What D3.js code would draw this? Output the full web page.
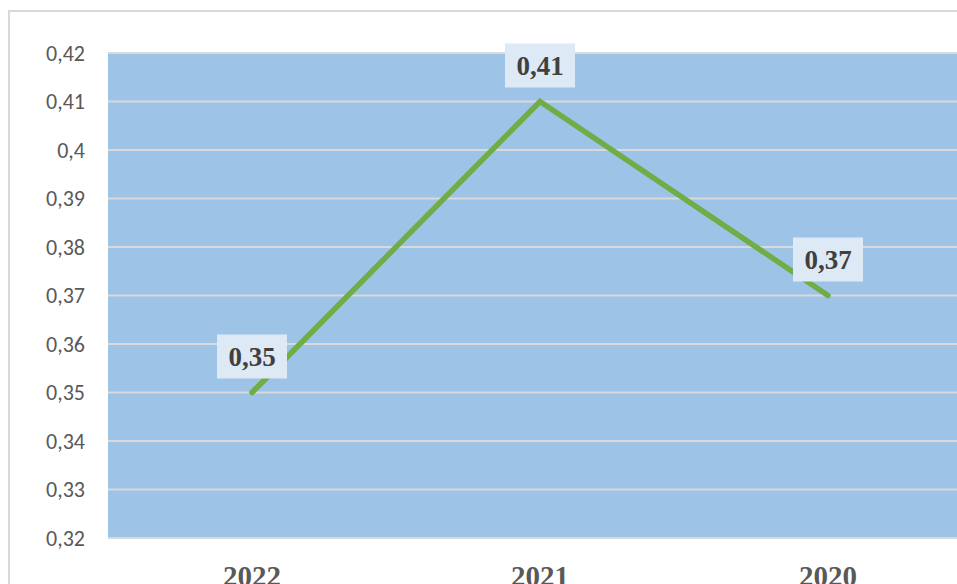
<!doctype html>
<html lang="en">
<head>
	<meta charset="utf-8">
	<title>Line chart</title>
	<script src="https://cdn.jsdelivr.net/npm/d3@7/dist/d3.min.js"></script>
	<style>
		body { margin: 0; background: #fff; }
		svg { display: block; }
	</style>
</head>
<body>
	<div id="viz">
		<svg width="957" height="584"></svg>
	</div>
	<script>
		var years = ["2022", "2021", "2020"];
		var values = [0.35, 0.41, 0.37];
		var yTicks = [0.32, 0.33, 0.34, 0.35, 0.36, 0.37, 0.38, 0.39, 0.40, 0.41, 0.42];

		var svg = d3.select("svg");
		var ru = d3.formatLocale({ decimal: ",", thousands: " ", grouping: [3], currency: ["", ""] });
		var fmt = ru.format("~f");

		// outer frame
		svg.append("rect")
			.attr("x", 9).attr("y", 11)
			.attr("width", 1000).attr("height", 650)
			.attr("fill", "#fff")
			.attr("stroke", "#d9d9d9")
			.attr("stroke-width", 2);

		var plotL = 108, plotR = 972, plotT = 53, plotB = 538;
		var xScale = d3.scaleBand().domain(years).range([plotL, plotR]);
		var yScale = d3.scaleLinear().domain([0.32, 0.42]).range([plotB, plotT]);

		// plot area
		svg.append("rect")
			.attr("x", plotL).attr("y", plotT)
			.attr("width", plotR - plotL).attr("height", plotB - plotT)
			.attr("fill", "#9dc3e6");

		// grid
		svg.append("g").selectAll("line")
			.data(yTicks)
			.enter().append("line")
			.attr("x1", plotL).attr("x2", plotR)
			.attr("y1", function(d) { return yScale(d); })
			.attr("y2", function(d) { return yScale(d); })
			.attr("stroke", "#d9d9d9")
			.attr("stroke-width", 2);

		// y axis labels
		var yAxis = d3.axisLeft(yScale).tickValues(yTicks).tickFormat(fmt).tickSize(0).tickPadding(23);
		var yG = svg.append("g").attr("transform", "translate(" + plotL + ",0)").call(yAxis);
		yG.select(".domain").remove();
		yG.selectAll("text")
			.attr("font-family", "Carlito, Lato, 'Liberation Sans', sans-serif")
			.attr("font-size", 22)
			.attr("fill", "#595959");

		// x axis labels
		var xAxis = d3.axisBottom(xScale).tickSize(0).tickPadding(27);
		var xG = svg.append("g").attr("transform", "translate(0," + plotB + ")").call(xAxis);
		xG.select(".domain").remove();
		xG.selectAll("text")
			.attr("font-family", "'Liberation Serif', 'Times New Roman', serif")
			.attr("font-weight", "bold")
			.attr("font-size", 29)
			.attr("fill", "#595959");

		var data = years.map(function(y, i) { return { year: y, value: values[i] }; });

		var line = d3.line()
			.x(function(d) { return xScale(d.year) + xScale.bandwidth() / 2; })
			.y(function(d) { return yScale(d.value); });

		svg.append("path")
			.attr("d", line(data))
			.attr("fill", "none")
			.attr("stroke", "#70ad47")
			.attr("stroke-width", 5.5)
			.attr("stroke-linecap", "round")
			.attr("stroke-linejoin", "miter");

		// data labels
		var lab = svg.append("g").selectAll("g")
			.data(data)
			.enter().append("g")
			.attr("transform", function(d) {
				return "translate(" + (xScale(d.year) + xScale.bandwidth() / 2) + "," + (yScale(d.value) - 36) + ")";
			});
		lab.append("rect")
			.attr("x", -35).attr("y", -22)
			.attr("width", 70).attr("height", 44)
			.attr("fill", "#dde9f5");
		lab.append("text")
			.attr("text-anchor", "middle")
			.attr("dy", "0.35em")
			.attr("font-family", "'Liberation Serif', 'Times New Roman', serif")
			.attr("font-weight", "bold")
			.attr("font-size", 27)
			.attr("fill", "#404040")
			.text(function(d) { return fmt(d.value); });
	</script>
</body>
</html>
